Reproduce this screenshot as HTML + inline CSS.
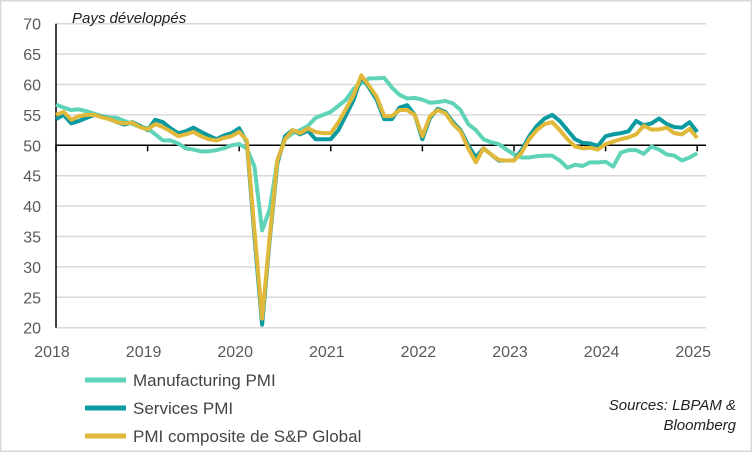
<!DOCTYPE html>
<html><head><meta charset="utf-8"><style>
body{margin:0;background:#fff;}
svg{display:block;font-family:"Liberation Sans",sans-serif;}
</style></head><body>
<svg id="c" width="752" height="452">
<rect x="0.5" y="0.5" width="751" height="451" fill="#fff" stroke="#d9d9d9" stroke-width="2"/>
<g id="grid"></g>
<g id="yt"></g>
<g id="xt"></g>
<g id="series"></g>
<text x="72" y="23" font-size="15" font-style="italic" fill="#222">Pays développés</text>
<g>
<g><line x1="85" y1="380" x2="126" y2="380" stroke="#5fd3b8" stroke-width="5"/><text x="133" y="386" font-size="17" fill="#444">Manufacturing PMI</text></g>
<g><line x1="85" y1="408" x2="126" y2="408" stroke="#0a9aa0" stroke-width="5"/><text x="133" y="414" font-size="17" fill="#444">Services PMI</text></g>
<g><line x1="85" y1="436" x2="126" y2="436" stroke="#e0b93a" stroke-width="5"/><text x="133" y="442" font-size="17" fill="#444">PMI composite de S&amp;P Global</text></g>
</g>
<text x="736" y="410" font-size="15" font-style="italic" fill="#222" text-anchor="end">Sources: LBPAM &amp;</text>
<text x="736" y="430" font-size="15" font-style="italic" fill="#222" text-anchor="end">Bloomberg</text>
</svg>
<script>
const yTicks=[20,25,30,35,40,45,50,55,60,65,70];
const xYears=["2018","2019","2020","2021","2022","2023","2024","2025"];
const manufacturing=[56.7,56.2,55.8,55.9,55.6,55.2,54.8,54.6,54.5,54.0,53.5,53.0,
52.8,51.8,50.8,50.8,50.3,49.5,49.3,49.0,49.0,49.2,49.5,50.0,
50.2,49.5,46.5,36.0,39.5,47.5,51.0,52.0,52.5,53.2,54.5,55.0,
55.5,56.5,57.5,59.3,60.2,61.0,61.0,61.1,59.5,58.3,57.7,57.8,
57.5,57.0,57.1,57.3,56.9,55.8,53.5,52.5,51.0,50.5,50.2,49.3,
48.5,48.0,48.0,48.2,48.3,48.3,47.5,46.3,46.8,46.6,47.2,47.2,
47.3,46.5,48.8,49.2,49.2,48.6,49.8,49.3,48.5,48.3,47.5,48.0,48.7];
const services=[54.3,55.0,53.6,54.0,54.5,55.0,54.7,54.3,53.8,53.4,53.8,53.2,
52.5,54.2,53.8,52.8,52.0,52.3,52.9,52.2,51.6,51.0,51.6,52.0,
52.8,50.5,35.0,20.5,34.5,47.0,51.5,52.5,51.8,52.4,51.0,51.0,
51.0,52.5,55.0,57.5,61.3,59.5,57.5,54.3,54.3,56.2,56.6,55.0,
51.0,54.5,56.0,55.5,53.8,52.5,50.0,48.0,49.5,48.5,47.5,47.5,
47.5,49.2,51.5,53.2,54.4,55.0,54.0,52.5,51.0,50.4,50.3,49.9,
51.5,51.8,52.0,52.3,54.0,53.3,53.6,54.4,53.5,53.0,52.9,53.8,52.2];
const composite=[55.0,55.5,54.2,54.8,55.0,55.0,54.6,54.3,53.8,53.6,53.7,53.0,
52.6,53.5,53.0,52.3,51.5,51.8,52.2,51.5,51.0,50.8,51.2,51.5,
52.2,50.8,36.0,21.5,35.0,47.5,51.0,52.5,52.0,52.8,52.2,52.0,
52.0,53.8,56.0,58.3,61.5,59.8,58.0,54.8,54.8,55.8,55.8,55.0,
51.5,54.8,55.8,55.3,53.5,52.3,49.5,47.2,49.5,48.5,47.6,47.5,
47.5,48.8,51.0,52.5,53.5,53.8,52.5,51.0,49.8,49.5,49.6,49.3,
50.2,50.6,51.0,51.3,51.8,53.2,52.6,52.6,52.9,52.0,51.8,52.7,51.2];
const NS="http://www.w3.org/2000/svg";
const X0=56,YW=91.6,Y0=327.7,PU=6.08;
const xs=i=>X0+i*YW/12, ys=v=>Y0-(v-20)*PU;
function mk(t,a,p){const e=document.createElementNS(NS,t);for(const k in a)e.setAttribute(k,a[k]);p.appendChild(e);return e;}
const grid=document.getElementById('grid'),yt=document.getElementById('yt'),xt=document.getElementById('xt'),sg=document.getElementById('series');
yTicks.forEach(v=>{
 if(v!==50){const l=mk('line',{x1:X0,x2:706,y1:ys(v),y2:ys(v),stroke:'#d9d9d9','stroke-width':1.5},grid);
 
 }
 const t=mk('text',{x:41,y:ys(v)+6,'font-size':16,fill:'#595959','text-anchor':'end'},yt);t.textContent=v;
 
 
});
const ax=mk('line',{x1:X0,x2:X0,y1:ys(70),y2:ys(20),stroke:'#000','stroke-width':1.5},grid);


const zl=mk('line',{x1:X0,x2:706,y1:ys(50),y2:ys(50),stroke:'#000','stroke-width':1.5},grid);


xYears.forEach((y,i)=>{
 const x=X0+i*YW;
 const tk=mk('line',{x1:x,x2:x,y1:ys(50),y2:ys(50)+6,stroke:'#000','stroke-width':1.5},xt);
 
 
 const t=mk('text',{x:x-4,y:357,'font-size':16,fill:'#595959','text-anchor':'middle'},xt);t.textContent=y;
 
 
});
[[manufacturing,'#5fd3b8','manufacturing-line'],[services,'#0a9aa0','services-line'],[composite,'#e0b93a','composite-line']].forEach(([d,c,n])=>{
 const p=mk('polyline',{points:d.map((v,i)=>xs(i)+','+ys(v)).join(' '),fill:'none',stroke:c,'stroke-width':4,'stroke-linejoin':'round'},sg);
 
 
});
</script>
</body></html>
